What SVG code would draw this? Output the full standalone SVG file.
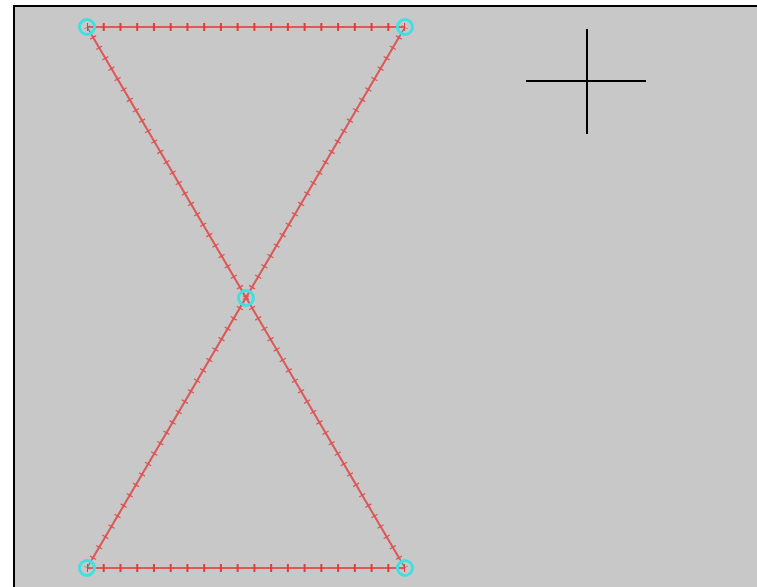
<svg xmlns="http://www.w3.org/2000/svg" width="757" height="587" viewBox="0 0 757 587">
<style>
.base{stroke:#3a8a8a;stroke-width:1.2;fill:none}
.edge{stroke:#e05858;stroke-width:2;fill:none}
.tick{stroke:#e03c3c;stroke-width:8;fill:none}
.dtick{stroke:#e05050;stroke-width:7;fill:none}
.node{fill:none;stroke:#40e0e0;stroke-width:3}
.cross{stroke:#000;stroke-width:2}
</style>
<rect x="0" y="0" width="757" height="587" fill="#ffffff"/>
<rect x="14" y="6" width="743" height="581" fill="#c8c8c8"/>
<path d="M14 587 V6 H757" fill="none" stroke="#000" stroke-width="2"/>
<g id="connectors">
<line class="base" x1="87" y1="27" x2="405" y2="568"/>
<line class="base" x1="405" y1="27" x2="87" y2="568"/>
<line class="edge" x1="87" y1="27" x2="405" y2="27"/>
<line class="tick" x1="87" y1="27" x2="405" y2="27" stroke-dasharray="2 14.74" stroke-dashoffset="1"/>
<line class="edge" x1="87" y1="568" x2="405" y2="568"/>
<line class="tick" x1="87" y1="568" x2="405" y2="568" stroke-dasharray="2 14.74" stroke-dashoffset="1"/>
<line class="edge" x1="92" y1="35.5" x2="400" y2="559.5"/>
<line class="dtick" x1="87" y1="27" x2="405" y2="568" stroke-dasharray="1.2 10.87" stroke-dashoffset="0.6"/>
<line class="edge" x1="400" y1="35.5" x2="92" y2="559.5"/>
<line class="dtick" x1="405" y1="27" x2="87" y2="568" stroke-dasharray="1.2 10.87" stroke-dashoffset="0.6"/>
</g>
<g id="n1"><circle class="node" cx="87" cy="27" r="7.5"/></g>
<g id="n2"><circle class="node" cx="405" cy="27" r="7.5"/></g>
<g id="n3"><circle class="node" cx="246" cy="298" r="7.5"/></g>
<g id="n4"><circle class="node" cx="87" cy="568" r="7.5"/></g>
<g id="n5"><circle class="node" cx="405" cy="568" r="7.5"/></g>
<g id="crosshair">
<line class="cross" x1="526" y1="81" x2="646" y2="81"/>
<line class="cross" x1="587" y1="29" x2="587" y2="134"/>
</g>
</svg>
